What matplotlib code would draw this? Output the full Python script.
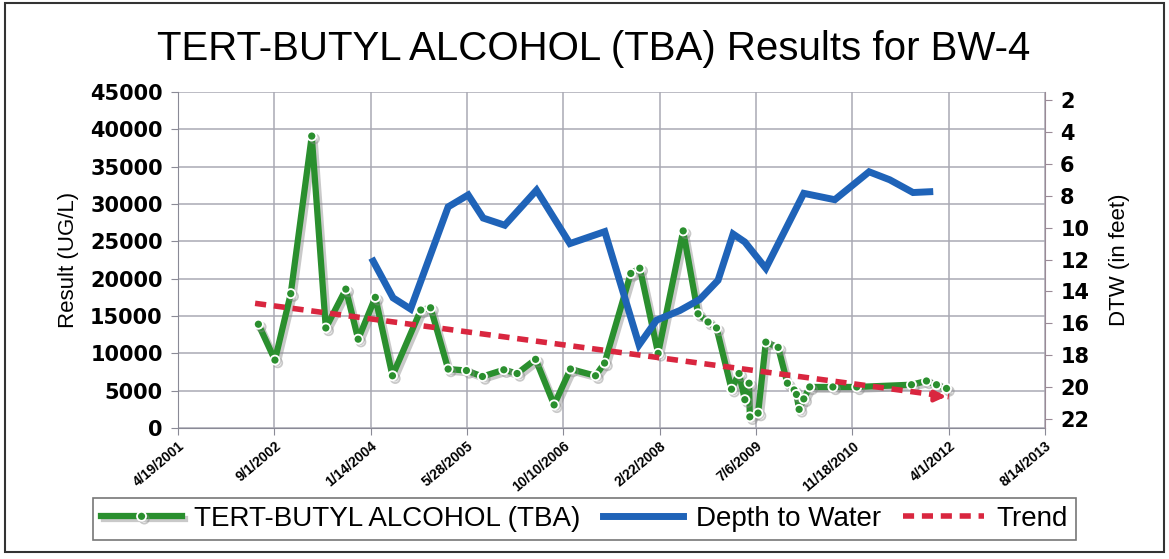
import matplotlib
matplotlib.use("Agg")
import matplotlib.pyplot as plt
import matplotlib.patheffects as pe
from matplotlib.patches import Rectangle
import pandas as pd

plt.rcParams['font.family'] = ['Liberation Sans', 'DejaVu Sans']

# TBA results (ug/L)
tba_dates = ['2002-06-10', '2002-09-04', '2002-11-25', '2003-03-14', '2003-05-26',
             '2003-09-07', '2003-11-10', '2004-02-07', '2004-05-06', '2004-09-30',
             '2004-11-20', '2005-02-19', '2005-05-25', '2005-08-16', '2005-12-05',
             '2006-02-12', '2006-05-19', '2006-08-23', '2006-11-16', '2007-03-26',
             '2007-05-12', '2007-09-25', '2007-11-11', '2008-02-14', '2008-06-23',
             '2008-09-08', '2008-10-30', '2008-12-13', '2009-03-01', '2009-04-09',
             '2009-05-09', '2009-05-31', '2009-06-04', '2009-07-17', '2009-08-26',
             '2009-10-29', '2009-12-16', '2010-01-20', '2010-02-01', '2010-02-15',
             '2010-03-11', '2010-04-11', '2010-08-09', '2010-12-11', '2011-09-21',
             '2011-12-08', '2012-01-29', '2012-03-21']
tba_vals = [13900, 9100, 18000, 39100, 13400,
            18600, 11900, 17500, 7000, 15800,
            16100, 7900, 7700, 6900, 7800,
            7300, 9200, 3100, 7900, 7000,
            8700, 20700, 21400, 10000, 26400,
            15300, 14200, 13400, 5200, 7300,
            3800, 6000, 1500, 2000, 11500,
            10800, 6000, 5100, 4500, 2500,
            3900, 5500, 5500, 5500, 5800,
            6300, 5800, 5300]

# depth to water (feet), right axis
dtw_dates = ['2004-01-27', '2004-05-09', '2004-08-08', '2005-02-19', '2005-06-03',
             '2005-08-20', '2005-12-10', '2006-05-24', '2006-11-13', '2007-05-13',
             '2007-11-07', '2008-02-06', '2008-06-05', '2008-09-17', '2008-12-21',
             '2009-03-09', '2009-05-09', '2009-08-26', '2010-03-11', '2010-08-19',
             '2011-02-13', '2011-05-31', '2011-09-29', '2011-12-25']
dtw_vals = [12.1, 14.4, 15.1, 8.7, 7.95,
            9.4, 9.85, 7.65, 11.0, 10.25,
            17.35, 15.8, 15.2, 14.5, 13.3,
            10.4, 10.9, 12.55, 7.85, 8.25,
            6.5, 7.0, 7.8, 7.75]

# linear trend of TBA
trend_dates = ['2002-05-24', '2012-04-02']
trend_vals = [16700, 4200]

x_tick_labels = ['4/19/2001', '9/1/2002', '1/14/2004', '5/28/2005', '10/10/2006',
                 '2/22/2008', '7/6/2009', '11/18/2010', '4/1/2012', '8/14/2013']
y_left_ticks = [0, 5000, 10000, 15000, 20000, 25000, 30000, 35000, 40000, 45000]
y_right_ticks = [2, 4, 6, 8, 10, 12, 14, 16, 18, 20, 22]

green = '#2a8f2e'
blue = '#1f63b8'
red = '#d9263f'
gridc = '#a9a9b4'

fig = plt.figure(figsize=(11.69, 5.59), dpi=100)
ax = fig.add_axes([0.1523, 0.2343, 0.7416, 0.6011])
ax2 = ax.twinx()

tba_x = pd.to_datetime(tba_dates)
dtw_x = pd.to_datetime(dtw_dates)
tr_x = pd.to_datetime(trend_dates)
xt = pd.to_datetime(x_tick_labels, format='%m/%d/%Y')

shadow = [pe.SimpleLineShadow(offset=(2, -2), shadow_color='#888888', alpha=0.45), pe.Normal()]

l1, = ax.plot(tba_x, tba_vals, color=green, lw=4.5, marker='o', ms=6.5,
              mfc=green, mec='white', mew=1.3, path_effects=shadow, zorder=3,
              label='TERT-BUTYL ALCOHOL (TBA)')
l3, = ax.plot(tr_x, trend_vals, color=red, lw=4, ls=(0, (2.0, 1.4)), zorder=4,
              label='Trend')
ax.annotate('', xy=(tr_x[-1], trend_vals[-1]),
            xytext=(tr_x[-1] - pd.Timedelta(days=60), trend_vals[-1] + 60),
            arrowprops=dict(arrowstyle='-|>', color=red, lw=3, mutation_scale=16),
            zorder=5)
l2, = ax2.plot(dtw_x, dtw_vals, color=blue, lw=5, solid_joinstyle='miter',
               label='Depth to Water')

ax.set_xlim(xt[0], xt[-1])
ax.set_xticks(xt)
ax.set_xticklabels(x_tick_labels, rotation=40, ha='right', va='top',
                   rotation_mode='anchor', fontsize=10, fontweight='bold')
ax.set_ylim(0, 45000)
ax.set_yticks(y_left_ticks)
ax.set_yticklabels([str(v) for v in y_left_ticks], fontsize=15, fontweight='bold',
                   family='DejaVu Sans')
ax2.set_ylim(22.56, 1.5)
ax2.set_yticks(y_right_ticks)
ax2.set_yticklabels([str(v) for v in y_right_ticks], fontsize=15, fontweight='bold',
                    family='DejaVu Sans')

ax.grid(True, color=gridc, lw=1.1)
ax.set_axisbelow(True)
for s in ['top']:
    ax.spines[s].set_visible(False)
    ax2.spines[s].set_visible(False)
ax.spines['right'].set_visible(False)
ax2.spines['left'].set_visible(False)
ax2.spines['bottom'].set_visible(False)
ax.spines['left'].set_color('#8a8a96')
ax.spines['bottom'].set_color('#8a8a96')
ax2.spines['right'].set_color('#9a8a96')
ax.tick_params(axis='y', length=5, color='#8a8a96', pad=6)
ax.tick_params(axis='x', length=5, color='#8a8a96', pad=3)
ax2.tick_params(axis='y', length=5, color='#9a8a96', pad=6)

ax.set_ylabel('Result (UG/L)', fontsize=16, labelpad=8)
ax2.set_ylabel('DTW (in feet)', fontsize=16, labelpad=14)

fig.text(0.508, 0.913, 'TERT-BUTYL ALCOHOL (TBA) Results for BW-4', ha='center',
         va='center', fontsize=29)

leg = fig.legend(handles=[l1, l2, l3], loc='center', ncol=3,
                 bbox_to_anchor=(0.5, 0.0715), fontsize=20, handlelength=2.9,
                 handletextpad=0.45, columnspacing=0.8, frameon=True, fancybox=False,
                 edgecolor='#555555', borderpad=0.3, borderaxespad=0)
leg.get_frame().set_linewidth(1.2)

fig.patches.append(Rectangle((0.004, 0.012), 0.992, 0.983, transform=fig.transFigure,
                             fill=False, edgecolor='#333333', lw=1.5))

fig.savefig('out.png', dpi=100)
